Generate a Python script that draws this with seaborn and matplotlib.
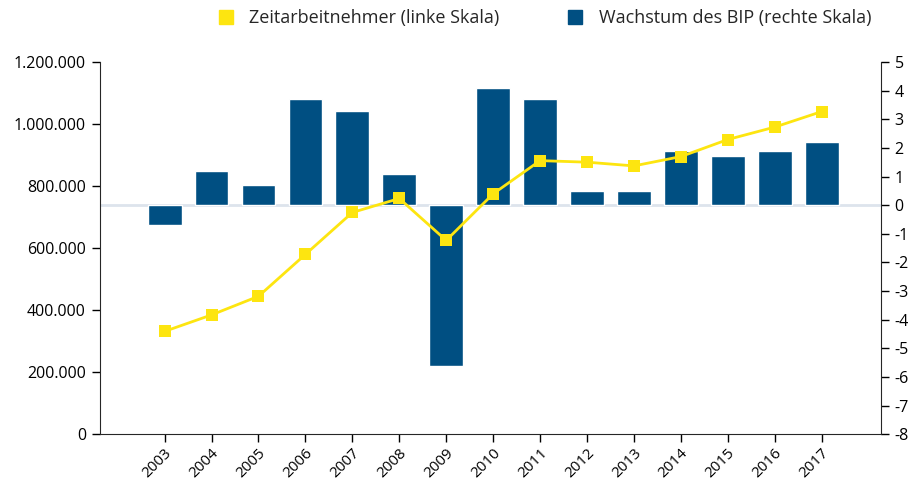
import matplotlib.pyplot as plt
import matplotlib.ticker as mticker
import matplotlib.transforms as mtransforms
from matplotlib.lines import Line2D
import seaborn as sns

# =========================
# DATA
# =========================

years = ["2003", "2004", "2005", "2006", "2007", "2008", "2009", "2010",
         "2011", "2012", "2013", "2014", "2015", "2016", "2017"]

# Zeitarbeitnehmer (linke Skala)
zeitarbeit = [332000, 385000, 445000, 580000, 715000, 760000, 625000, 775000,
              882000, 877000, 865000, 895000, 950000, 990000, 1040000]

# Wachstum des BIP in % (rechte Skala)
bip = [-0.7, 1.2, 0.7, 3.7, 3.3, 1.1, -5.6, 4.1,
       3.7, 0.5, 0.5, 1.9, 1.7, 1.9, 2.2]

left_ticks = [0, 200000, 400000, 600000, 800000, 1000000, 1200000]
right_ticks = list(range(-8, 6))

YELLOW = "#fde510"
BLUE = "#004f82"

# =========================
# PLOT
# =========================

sns.set_style("ticks")
plt.rcParams['font.family'] = ['Open Sans', 'DejaVu Sans']
plt.rcParams['axes.unicode_minus'] = False

fig = plt.figure(figsize=(9.08, 4.8), dpi=100)
ax1 = fig.add_axes([0.110, 0.095, 0.860, 0.776])
ax2 = ax1.twinx()

# bars on right scale
ax2.axhline(0, color="#dde4ec", lw=2, zorder=0)
sns.barplot(x=years, y=bip, color=BLUE, width=0.72, saturation=1,
            ax=ax2, zorder=2)
ax2.set_ylim(-8, 5)
ax2.set_yticks(right_ticks)

# line on left scale
sns.lineplot(x=years, y=zeitarbeit, color=YELLOW, lw=2, marker="s",
             markersize=9, markeredgewidth=0, ax=ax1, sort=False)
ax1.set_ylim(0, 1200000)
ax1.set_yticks(left_ticks)
ax1.yaxis.set_major_formatter(
    mticker.FuncFormatter(lambda v, p: f"{int(v):,}".replace(",", ".")))

ax1.set_zorder(ax2.get_zorder() + 1)
ax1.patch.set_visible(False)

for ax in (ax1, ax2):
    ax.set_xlabel("")
    ax.set_ylabel("")
    ax.spines["top"].set_visible(False)
    ax.tick_params(length=6, width=1, colors="black", labelsize=11.5)

ax1.set_xlim(-1.38, 15.26)
ax1.set_xticks(range(len(years)))
ax1.set_xticklabels(years, rotation=45, ha="right", va="center",
                    rotation_mode="anchor", fontsize=11)
ax1.tick_params(axis="x", pad=6)
shift = mtransforms.ScaledTranslation(5 / 100, 0, fig.dpi_scale_trans)
for lbl in ax1.get_xticklabels():
    lbl.set_transform(lbl.get_transform() + shift)
ax2.tick_params(axis="x", bottom=False, labelbottom=False)

ax1.tick_params(axis="y", pad=4)
ax2.tick_params(axis="y", pad=4)
ax1.spines["right"].set_visible(False)
ax2.spines["left"].set_visible(False)
ax2.spines["bottom"].set_visible(False)

# legend
handles = [
    Line2D([], [], marker="s", color=YELLOW, ls="", markersize=10),
    Line2D([], [], marker="s", color=BLUE, ls="", markersize=10),
]
labels = ["Zeitarbeitnehmer (linke Skala)", "Wachstum des BIP (rechte Skala)"]
fig.legend(handles, labels, loc="center", bbox_to_anchor=(0.594, 0.962),
           ncol=2, frameon=False, fontsize=13, columnspacing=3.2,
           handletextpad=0.3)

plt.savefig("out.png", dpi=100)
